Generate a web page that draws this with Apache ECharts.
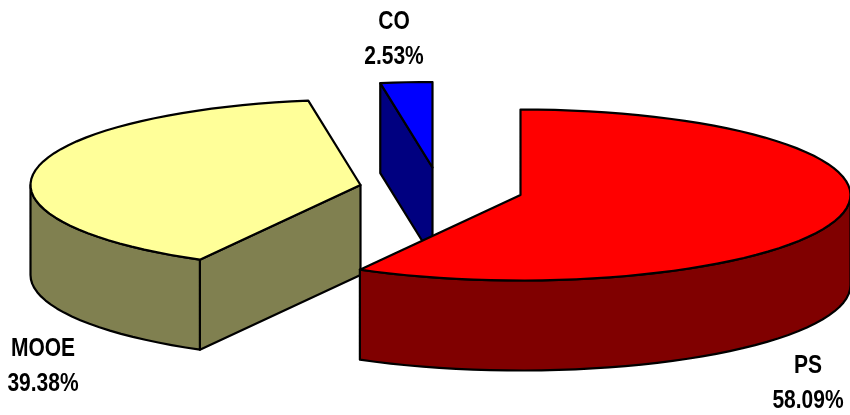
<!DOCTYPE html>
<html>
<head>
<meta charset="utf-8">
<style>html,body{margin:0;padding:0;background:#fff}#chart{width:850px;height:415px}</style>
<script src="https://cdn.jsdelivr.net/npm/echarts@6/dist/echarts.min.js"></script>
</head>
<body>
<div id="chart"></div>
<script>
// Budget shares by expense class
const categories = ['PS', 'MOOE', 'CO'];
const shares = [58.09, 39.38, 2.53];

// Per-slice drawing style and placement
const topColors = ['#FF0000', '#FFFF99', '#0000FF'];
const wallColors = ['#800000', '#808050', '#000080'];
const apexes = [[520.5, 195], [360.5, 185], [432.5, 167.5]];
const labelAnchors = [[808, 366], [43, 349], [394, 22]];
const stacking = [3, 2, 1];

// Disc projection
const radiusX = 330;
const radiusY = 85.5;
const depth = 90;
const labelGap = 35;
const labelSqueeze = 0.84;

const total = shares.reduce((a, b) => a + b, 0);
const startAngles = [];
shares.reduce((acc, v, i) => { startAngles[i] = acc; return acc + v / total * 360; }, 0);

function rimPoint(apex, deg, drop) {
  const r = deg * Math.PI / 180;
  return [apex[0] + radiusX * Math.sin(r), apex[1] - radiusY * Math.cos(r) + drop];
}

function arc(apex, from, to, drop) {
  const n = Math.max(2, Math.ceil(Math.abs(to - from) / 3));
  const pts = [];
  for (let k = 0; k <= n; k++) pts.push(rimPoint(apex, from + (to - from) * k / n, drop));
  return pts;
}

function face(points, fill, z2) {
  return {
    type: 'polygon', z2: z2,
    shape: { points: points },
    style: { fill: fill, stroke: '#000', lineWidth: 2.2, lineJoin: 'round' }
  };
}

function renderSlice(params, api) {
  const i = api.value(0);
  const value = api.value(1);
  const apex = apexes[i];
  const a0 = startAngles[i];
  const a1 = a0 + value / total * 360;
  const base = stacking[i] * 10;
  const children = [];
  const bottom = [apex[0], apex[1] + depth];

  // Cut faces that turn toward the viewer
  if (Math.sin(a0 * Math.PI / 180) < -1e-6) {
    const p = rimPoint(apex, a0, 0);
    children.push(face([apex, p, [p[0], p[1] + depth], bottom], wallColors[i], base));
  }
  if (Math.sin(a1 * Math.PI / 180) > 1e-6) {
    const p = rimPoint(apex, a1, 0);
    children.push(face([apex, p, [p[0], p[1] + depth], bottom], wallColors[i], base));
  }

  // Outer wall: only the front half of the rim is visible
  const w0 = Math.max(a0, 90);
  const w1 = Math.min(a1, 270);
  if (w1 > w0) {
    const pts = arc(apex, w0, w1, 0).concat(arc(apex, w1, w0, depth));
    children.push(face(pts, wallColors[i], base + 1));
  }

  // Top face
  children.push(face([apex].concat(arc(apex, a0, a1, 0)), topColors[i], base + 2));

  // Two-line label: name and share, set in a condensed width
  const anchor = labelAnchors[i];
  [categories[i], value.toFixed(2) + '%'].forEach((line, k) => {
    children.push({
      type: 'text', z2: 100,
      x: anchor[0], y: anchor[1] + k * labelGap,
      scaleX: labelSqueeze,
      style: {
        text: line, x: 0, y: 0,
        align: 'center', verticalAlign: 'middle',
        fill: '#000', font: 'bold 25px "Liberation Sans", sans-serif'
      }
    });
  });
  return { type: 'group', children: children };
}

const chart = echarts.init(document.getElementById('chart'), null, { renderer: 'canvas' });
chart.setOption({
  animation: false,
  backgroundColor: '#fff',
  series: [{
    type: 'custom',
    coordinateSystem: 'none',
    renderItem: renderSlice,
    data: shares.map((v, i) => [i, v]),
    silent: true
  }]
});
</script>
</body>
</html>
